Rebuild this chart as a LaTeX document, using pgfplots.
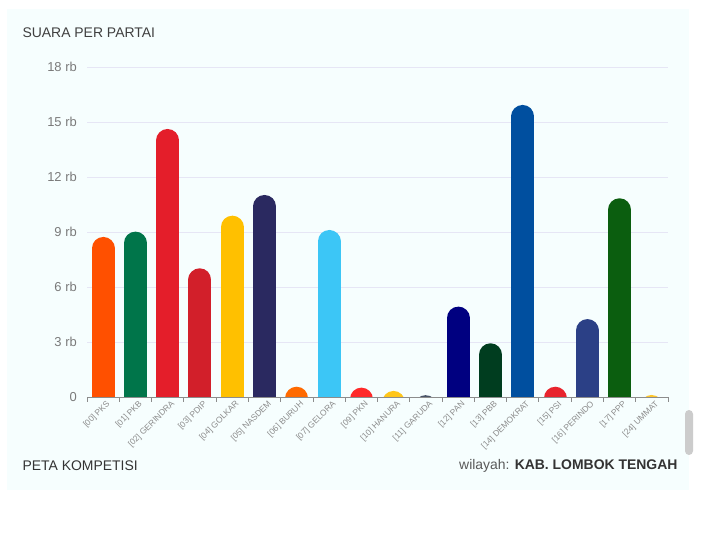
\documentclass[border=0pt]{standalone}
\usepackage{fontspec}
\setmainfont{Liberation Sans}
\usepackage{pgfplots}
\pgfplotsset{compat=1.18}
\usepackage{pgfplotstable}

\definecolor{panel}{HTML}{F6FEFE}
\definecolor{gridc}{HTML}{E6E6F5}
\definecolor{cPKS}{HTML}{FF5000}
\definecolor{cPKB}{HTML}{00754A}
\definecolor{cGER}{HTML}{E41E2A}
\definecolor{cPDIP}{HTML}{D21F2A}
\definecolor{cGOL}{HTML}{FFC000}
\definecolor{cNAS}{HTML}{2A2960}
\definecolor{cBUR}{HTML}{FF6A00}
\definecolor{cGEL}{HTML}{3CC6F6}
\definecolor{cPKN}{HTML}{FF2A2A}
\definecolor{cHAN}{HTML}{FFC61A}
\definecolor{cGAR}{HTML}{4A5568}
\definecolor{cPAN}{HTML}{000080}
\definecolor{cPBB}{HTML}{003D1F}
\definecolor{cDEM}{HTML}{004F9F}
\definecolor{cPSI}{HTML}{E8242D}
\definecolor{cPER}{HTML}{2B4086}
\definecolor{cPPP}{HTML}{0B5E0F}
\definecolor{cUMM}{HTML}{FFC72C}

% votes per party
\pgfplotstableread{
x v
0 8730
1 9020
2 14620
3 7020
4 9890
5 11020
6 560
7 9110
8 510
9 330
10 100
11 4930
12 2930
13 15930
14 560
15 4250
16 10840
17 110
}\votes

% rounded bar: thick stroke from below the axis (clipped) up to v-r,
% the round cap adds r = 11.5bp (627 in data units)
\newcommand{\pbar}[2]{%
  \addplot[quiver={u=0, v=\thisrow{v}+2373}, draw=#2, line width=23bp, line cap=round, mark=none,
    x filter/.expression={abs(x-#1)<0.1 ? x : nan}]
    table[x=x, y expr=-3000] {\votes};}

\begin{document}
\begin{tikzpicture}
\path[use as bounding box, fill=white] (0bp,0bp) rectangle (720bp,540bp);
\fill[panel] (7bp,50bp) rectangle (689bp,531bp);
\fill[gray!40, rounded corners=4bp] (685bp,85bp) rectangle (693bp,130bp);

\node[anchor=west, font=\fontsize{14}{16}\selectfont, text=black!75] at (19bp,507bp) {SUARA PER PARTAI};
\node[anchor=west, font=\fontsize{14}{16}\selectfont, text=black!80] at (19bp,74bp) {PETA KOMPETISI};
\node[anchor=east, font=\fontsize{14}{16}\selectfont, text=black!80] at (681bp,74bp)
  {\textcolor{black!65}{wilayah:} \textbf{KAB. LOMBOK TENGAH}};

\begin{axis}[
  at={(87bp,143bp)}, anchor=south west,
  scale only axis, width=581bp, height=330bp,
  xmin=-0.5, xmax=17.5, ymin=0, ymax=18000,
  axis x line*=bottom, axis y line*=left,
  y axis line style={draw=none},
  x axis line style={draw=black!45, line width=0.8bp},
  scaled y ticks=false,
  ytick={0,3000,6000,9000,12000,15000,18000},
  yticklabels={0,3 rb,6 rb,9 rb,12 rb,15 rb,18 rb},
  ytick style={draw=none},
  yticklabel style={anchor=east, inner sep=0pt, xshift=-5bp, text=black!52, font=\fontsize{13}{15}\selectfont},
  ymajorgrids, grid style={gridc, line width=0.8bp},
  xtick={-0.5,0.5,...,17.5}, xticklabels={},
  tick align=outside, major tick length=5bp,
  xtick style={draw=black!45, line width=0.8bp},
  extra x ticks={0,1,...,17},
  extra x tick labels={[00] PKS,[01] PKB,[02] GERINDRA,[03] PDIP,[04] GOLKAR,[05] NASDEM,[06] BURUH,[07] GELORA,[09] PKN,[10] HANURA,[11] GARUDA,[12] PAN,[13] PBB,[14] DEMOKRAT,[15] PSI,[16] PERINDO,[17] PPP,[24] UMMAT},
  extra x tick style={major tick length=0pt, xtick style={draw=none},
    xticklabel style={rotate=45, anchor=east, inner sep=0pt, xshift=0bp, yshift=-8bp,
      text=black!45, font=\fontsize{8.5}{10}\selectfont}},
]
\pbar{0}{cPKS}
\pbar{1}{cPKB}
\pbar{2}{cGER}
\pbar{3}{cPDIP}
\pbar{4}{cGOL}
\pbar{5}{cNAS}
\pbar{6}{cBUR}
\pbar{7}{cGEL}
\pbar{8}{cPKN}
\pbar{9}{cHAN}
\pbar{10}{cGAR}
\pbar{11}{cPAN}
\pbar{12}{cPBB}
\pbar{13}{cDEM}
\pbar{14}{cPSI}
\pbar{15}{cPER}
\pbar{16}{cPPP}
\pbar{17}{cUMM}
\end{axis}
\end{tikzpicture}
\end{document}
